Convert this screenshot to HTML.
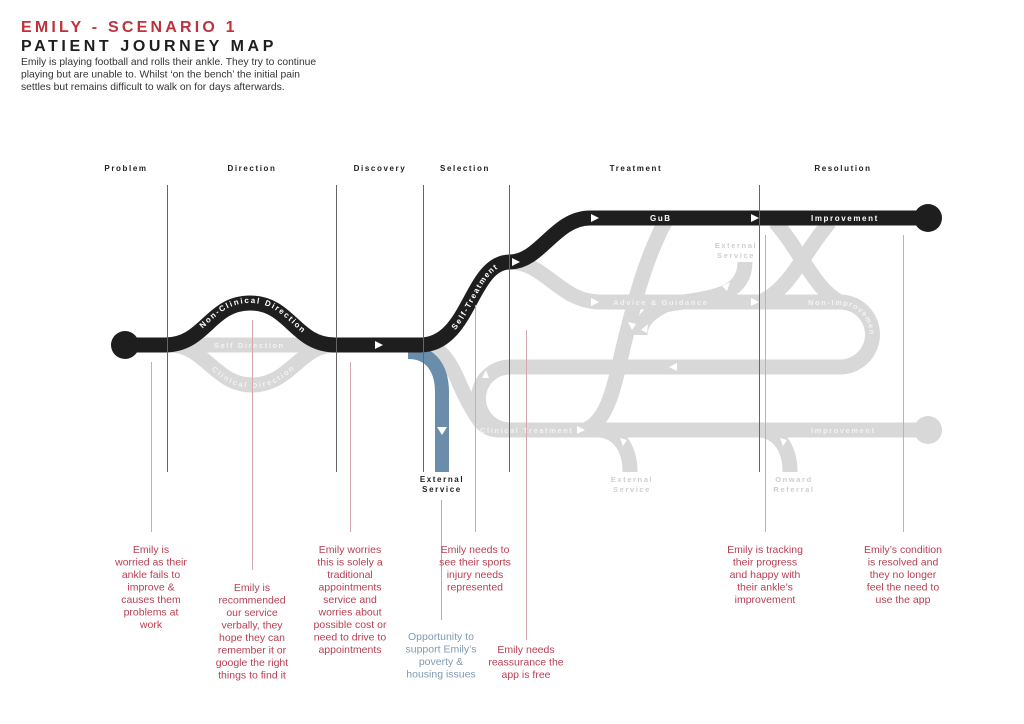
<!DOCTYPE html>
<html><head><meta charset="utf-8"><style>
body{margin:0;background:#fff;width:1024px;height:724px;overflow:hidden}
svg{display:block;font-family:"Liberation Sans",sans-serif}
.st{font-size:8px;font-weight:bold;letter-spacing:1.6px;fill:#222}
.lw{font-size:8px;font-weight:bold;letter-spacing:1.6px;fill:#fff}
.lg{font-size:7.5px;font-weight:bold;letter-spacing:1.6px;fill:#f2f2f2}
.lo{font-size:7.5px;letter-spacing:1.6px;fill:#cfcfcf;font-weight:bold}
.an{font-size:10.5px;fill:#b83f52}
.g{fill:none;stroke:#d8d8d8;stroke-width:15}
.k{fill:none;stroke:#1e1e1e;stroke-width:15}
</style></head><body>
<svg width="1024" height="724" viewBox="0 0 1024 724">
<text x="21" y="32" font-size="16" font-weight="bold" letter-spacing="3.2" fill="#c0303d">EMILY - SCENARIO 1</text>
<text x="21" y="51" font-size="16" font-weight="bold" letter-spacing="3.6" fill="#1e1e1e">PATIENT JOURNEY MAP</text>
<text font-size="10.3" fill="#333"><tspan x="21" y="65">Emily is playing football and rolls their ankle. They try to continue</tspan><tspan x="21" y="77.5">playing but are unable to. Whilst ‘on the bench’ the initial pain</tspan><tspan x="21" y="90">settles but remains difficult to walk on for days afterwards.</tspan></text>

<g text-anchor="middle" class="st">
<text x="126" y="171">Problem</text><text x="252" y="171">Direction</text><text x="380" y="171">Discovery</text><text x="465" y="171">Selection</text><text x="636" y="171">Treatment</text><text x="843" y="171">Resolution</text>
</g>

<path id="nip" d="M808,302 H840 A32.5,32.5 0 0 1 872.5,334.5" fill="none"/>

<!-- grey network -->
<path class="g" d="M165,345 H335"/>
<path id="cd" class="g" d="M170,345 C205,345 215,385 252,385 C290,385 300,345 335,345"/>
<path class="g" d="M420,345 C450,345 455,380 470,405 C480,423 485,430 500,430 H928"/>
<circle cx="928" cy="430" r="14" fill="#d8d8d8"/>
<path class="g" d="M510,262 C545,262 560,302 600,302 H840 A32.5,32.5 0 0 1 840,367 H510 A31.5,31.5 0 0 0 510,430"/>
<!-- pound -->
<path class="g" d="M665,222 C645,260 635,300 625,340 C615,380 610,420 585,430"/>
<path class="g" d="M600,430 C620,432 630,450 630,472"/>
<path class="g" d="M760,430 C780,432 790,450 790,472"/>
<path class="g" d="M745,262 C745,300 700,298 665,305 C645,315 640,325 640,335"/>
<!-- X -->
<path class="g" d="M775,222 C800,250 815,290 840,302"/>
<path class="g" d="M830,222 C805,250 790,290 760,302"/>

<!-- blue -->
<path d="M408,352 C432,352 442,370 442,392 V472" fill="none" stroke="#6a8dab" stroke-width="14"/>

<!-- main black -->
<path id="nc" class="k" d="M125,345 H165 C205,345 210,303 250,303 C290,303 295,345 335,345 H420"/>
<path id="stp" class="k" d="M420,345 C470,345 470,262 510,262 C540,262 555,218 590,218 H928"/>
<circle cx="125" cy="345" r="14" fill="#1e1e1e"/>
<circle cx="928" cy="218" r="14" fill="#1e1e1e"/>

<!-- arrows -->
<g fill="#fff">
<polygon points="375,341 383,345 375,349"/>
<polygon points="591,214 599,218 591,222"/>
<polygon points="751,214 759,218 751,222"/>
<polygon points="512,258 520,262 512,266"/>
<polygon points="437,427 447,427 442,435"/>
<polygon points="591,298 599,302 591,306"/>
<polygon points="751,298 759,302 751,306"/>
<polygon points="677,363 669,367 677,371"/>
<polygon points="577,426 585,430 577,434"/>
<polygon points="641,330 648,324 647,333"/>
<polygon points="628,322 636,324 632,330"/>
<polygon points="722,286 730,282 727,291"/>
<polygon points="482,378 486,370 489,378"/>
<polygon points="620,438 627,440 623,446"/>
<polygon points="780,438 787,440 783,446"/>
</g>

<!-- line labels -->
<text class="lw"><textPath href="#nc" startOffset="82">Non-Clinical Direction</textPath></text>
<text class="lg" x="214" y="348">Self Direction</text>
<text class="lg" dy="3"><textPath href="#cd" startOffset="50">Clinical Direction</textPath></text>
<text class="lw" dy="3"><textPath href="#stp" startOffset="38">Self-Treatment</textPath></text>
<text class="lw" x="650" y="221">GuB</text>
<text class="lw" x="811" y="221">Improvement</text>
<text class="lg" x="613" y="305">Advice &amp; Guidance</text>
<text class="lg" dy="3"><textPath href="#nip" startOffset="0">Non-Improvement</textPath></text>
<text class="lg" x="480" y="433">Clinical Treatment</text>
<text class="lg" x="811" y="433">Improvement</text>
<g text-anchor="middle">
<text class="lo"><tspan x="736" y="248">External</tspan><tspan x="736" y="258">Service</tspan></text>
<text class="lo"><tspan x="632" y="482">External</tspan><tspan x="632" y="492">Service</tspan></text>
<text class="lo"><tspan x="794" y="482">Onward</tspan><tspan x="794" y="492">Referral</tspan></text>
<text class="st"><tspan x="442" y="482">External</tspan><tspan x="442" y="492">Service</tspan></text>
</g>

<!-- vertical lines -->
<g stroke="#666" stroke-width="1">
<line x1="167.5" y1="185" x2="167.5" y2="472"/><line x1="336.5" y1="185" x2="336.5" y2="472"/><line x1="423.5" y1="185" x2="423.5" y2="472"/><line x1="509.5" y1="185" x2="509.5" y2="472"/><line x1="759.5" y1="185" x2="759.5" y2="472"/>
</g>
<g stroke="#d4a6ad" stroke-width="1">
<line x1="151.5" y1="362" x2="151.5" y2="532"/><line x1="252.5" y1="320" x2="252.5" y2="570"/><line x1="350.5" y1="362" x2="350.5" y2="532"/><line x1="475.5" y1="305" x2="475.5" y2="532"/><line x1="526.5" y1="330" x2="526.5" y2="640"/><line x1="765.5" y1="235" x2="765.5" y2="532"/><line x1="903.5" y1="235" x2="903.5" y2="532"/>
</g>
<line x1="441.5" y1="500" x2="441.5" y2="620" stroke="#9fb3c6"/>

<!-- annotations -->
<g text-anchor="middle" class="an">
<text y="553"><tspan x="151">Emily is</tspan><tspan x="151" dy="12.5">worried as their</tspan><tspan x="151" dy="12.5">ankle fails to</tspan><tspan x="151" dy="12.5">improve &amp;</tspan><tspan x="151" dy="12.5">causes them</tspan><tspan x="151" dy="12.5">problems at</tspan><tspan x="151" dy="12.5">work</tspan></text>
<text y="591"><tspan x="252">Emily is</tspan><tspan x="252" dy="12.5">recommended</tspan><tspan x="252" dy="12.5">our service</tspan><tspan x="252" dy="12.5">verbally, they</tspan><tspan x="252" dy="12.5">hope they can</tspan><tspan x="252" dy="12.5">remember it or</tspan><tspan x="252" dy="12.5">google the right</tspan><tspan x="252" dy="12.5">things to find it</tspan></text>
<text y="553"><tspan x="350">Emily worries</tspan><tspan x="350" dy="12.5">this is solely a</tspan><tspan x="350" dy="12.5">traditional</tspan><tspan x="350" dy="12.5">appointments</tspan><tspan x="350" dy="12.5">service and</tspan><tspan x="350" dy="12.5">worries about</tspan><tspan x="350" dy="12.5">possible cost or</tspan><tspan x="350" dy="12.5">need to drive to</tspan><tspan x="350" dy="12.5">appointments</tspan></text>
<text y="553"><tspan x="475">Emily needs to</tspan><tspan x="475" dy="12.5">see their sports</tspan><tspan x="475" dy="12.5">injury needs</tspan><tspan x="475" dy="12.5">represented</tspan></text>
<text y="640" fill="#7f9ab3"><tspan x="441">Opportunity to</tspan><tspan x="441" dy="12.5">support Emily’s</tspan><tspan x="441" dy="12.5">poverty &amp;</tspan><tspan x="441" dy="12.5">housing issues</tspan></text>
<text y="653"><tspan x="526">Emily needs</tspan><tspan x="526" dy="12.5">reassurance the</tspan><tspan x="526" dy="12.5">app is free</tspan></text>
<text y="553"><tspan x="765">Emily is tracking</tspan><tspan x="765" dy="12.5">their progress</tspan><tspan x="765" dy="12.5">and happy with</tspan><tspan x="765" dy="12.5">their ankle’s</tspan><tspan x="765" dy="12.5">improvement</tspan></text>
<text y="553"><tspan x="903">Emily’s condition</tspan><tspan x="903" dy="12.5">is resolved and</tspan><tspan x="903" dy="12.5">they no longer</tspan><tspan x="903" dy="12.5">feel the need to</tspan><tspan x="903" dy="12.5">use the app</tspan></text>
</g>
</svg>
</body></html>
